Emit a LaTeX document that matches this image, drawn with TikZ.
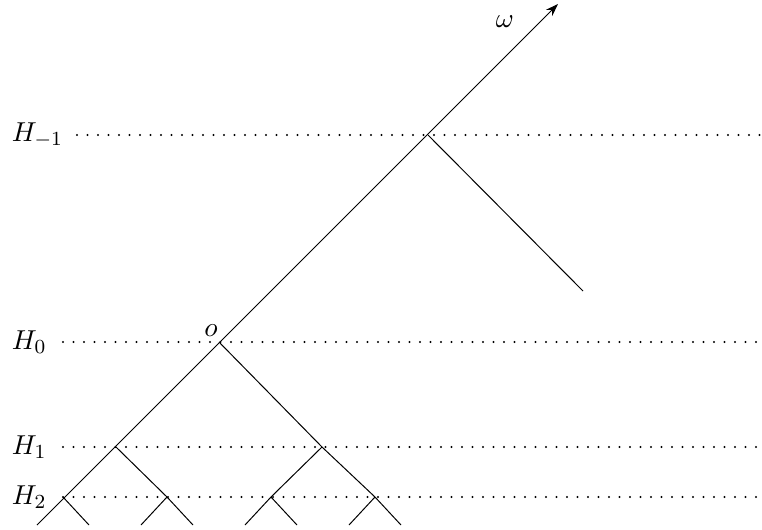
\documentclass[tikz,border=0pt]{standalone}
\usepackage{amsmath, amssymb}
\usepackage{tikz}
\usetikzlibrary{arrows.meta}
\begin{document}
\begin{tikzpicture}[x=0.4pt,y=-0.4pt,every node/.style={font=\fontsize{11}{13}\selectfont}]
\tikzset{hdots/.style={line width=0.85pt, line cap=round, dash pattern=on 0pt off 4.2pt}}
\useasboundingbox (0,0) rectangle (762,529);
%层的标签
\node[anchor=west] (hm1) at (3,135) {$H_{-1}$};
\node[anchor=west] (h0) at (3,342) {$H_0$};
\node[anchor=west] (h1) at (3,447) {$H_1$};
\node[anchor=west] (h2) at (3,497) {$H_2$};
%树的顶点
\coordinate (tip) at (558,4);
\coordinate (a) at (428,135);
\coordinate (e) at (583,291);
\coordinate (o) at (219,342);
\coordinate (p1) at (116,447);
\coordinate (p2) at (322,447);
\coordinate (q1) at (63,497);
\coordinate (q2) at (167,497);
\coordinate (q3) at (271,497);
\coordinate (q4) at (375,497);
%底端
\coordinate (q1l) at (37,525);
\coordinate (q1r) at (89,525);
\coordinate (q2l) at (141,525);
\coordinate (q2r) at (193,525);
\coordinate (q3l) at (245,525);
\coordinate (q3r) at (297,525);
\coordinate (q4l) at (349,525);
\coordinate (q4r) at (401,525);
%点线
\coordinate (sm1) at (77,135);
\coordinate (s0) at (63,342);
\coordinate (s1) at (63,447);
\coordinate (s2) at (63,497);
\draw[hdots] (sm1)--(762,135);
\draw[hdots] (s0)--(762,342);
\draw[hdots] (s1)--(762,447);
\draw[hdots] (s2)--(762,497);
%标签
\node (olab) at (211,331) {$o$};
\node (omega) at (505,22) {$\omega$};

%连线
\draw[-{Stealth[length=5pt,width=3.5pt]}] (q1l)--(tip);
\draw (a)--(e);
\draw (o)--(p2);
\draw (p1)--(q2);
\draw (p2)--(q3);
\draw (p2)--(q4);

\draw (q1)--(q1r);
\draw (q2)--(q2l);
\draw (q2)--(q2r);
\draw (q3)--(q3l);
\draw (q3)--(q3r);
\draw (q4)--(q4l);
\draw (q4)--(q4r);
\end{tikzpicture}
\end{document}
